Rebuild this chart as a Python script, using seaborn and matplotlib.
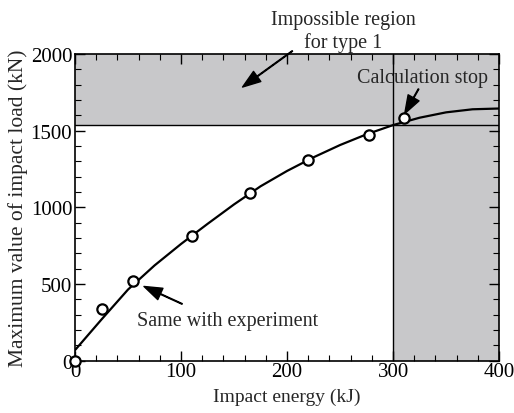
import matplotlib
matplotlib.use("Agg")
import matplotlib.pyplot as plt
from matplotlib.ticker import MultipleLocator
import seaborn as sns
import pandas as pd

# Analysis curve (impact energy kJ, max impact load kN)
curve_x = [0, 25, 50, 75, 100, 125, 150, 175, 200, 225, 250, 275, 300, 325, 350, 375, 400]
curve_y = [70, 270, 465, 622, 762, 893, 1020, 1138, 1238, 1327, 1407, 1477, 1537, 1585, 1620, 1640, 1645]

# Computed points (open circles)
pts_x = [0, 25, 55, 110, 165, 220, 277, 310]
pts_y = [0, 340, 520, 815, 1095, 1310, 1475, 1585]

limit_load = 1540
limit_energy = 300

sns.set_theme(style="ticks")
plt.rcParams["font.family"] = ["Liberation Serif", "DejaVu Serif"]

fig = plt.figure(figsize=(5.14, 4.14), dpi=100)
ax = fig.add_axes([0.146, 0.126, 0.825, 0.741])

gray = "#c8c8ca"
ax.axhspan(limit_load, 2000, color=gray, zorder=0, lw=0)
ax.axvspan(limit_energy, 400, color=gray, zorder=0, lw=0)
ax.axhline(limit_load, color="black", lw=1.0, zorder=1)
ax.axvline(limit_energy, color="black", lw=1.0, zorder=1)

curve = pd.DataFrame({"x": curve_x, "y": curve_y})
pts = pd.DataFrame({"x": pts_x, "y": pts_y})
sns.lineplot(data=curve, x="x", y="y", ax=ax, color="black", lw=1.6, zorder=2)
sns.scatterplot(data=pts, x="x", y="y", ax=ax, s=55, facecolor="white",
                edgecolor="black", linewidth=1.6, zorder=3, clip_on=False)

ax.set_xlim(0, 400)
ax.set_ylim(0, 2000)
ax.xaxis.set_major_locator(MultipleLocator(100))
ax.xaxis.set_minor_locator(MultipleLocator(20))
ax.yaxis.set_major_locator(MultipleLocator(500))
ax.yaxis.set_minor_locator(MultipleLocator(100))
ax.tick_params(which="both", direction="in", top=True, right=True, colors="black",
               labelsize=15)
ax.tick_params(which="major", length=7, width=1.0)
ax.tick_params(which="minor", length=4, width=0.8)
ax.tick_params(axis="x", pad=1)
ax.tick_params(axis="y", pad=2)
for s in ax.spines.values():
    s.set_color("black")
    s.set_linewidth(1.2)

ax.set_xlabel("Impact energy (kJ)", fontsize=14, labelpad=5)
ax.set_ylabel("Maximum value of impact load (kN)", fontsize=15.5, labelpad=2)

arrow = dict(facecolor="black", edgecolor="black", width=0.5, headwidth=9,
             headlength=13, shrink=0)

ax.annotate("", xy=(158, 1785), xytext=(205, 2020), arrowprops=arrow,
            annotation_clip=False)
ax.text(253, 2012, "Impossible region\nfor type 1", ha="center", va="bottom",
        fontsize=14.5, linespacing=1.25, clip_on=False)

ax.annotate("", xy=(311, 1612), xytext=(324, 1772), arrowprops=arrow)
ax.text(328, 1850, "Calculation stop", ha="center", va="center", fontsize=14.5)

ax.annotate("", xy=(65, 485), xytext=(101, 371), arrowprops=arrow)
ax.text(144, 260, "Same with experiment", ha="center", va="center", fontsize=14.5)

fig.savefig("out.png", dpi=100)
